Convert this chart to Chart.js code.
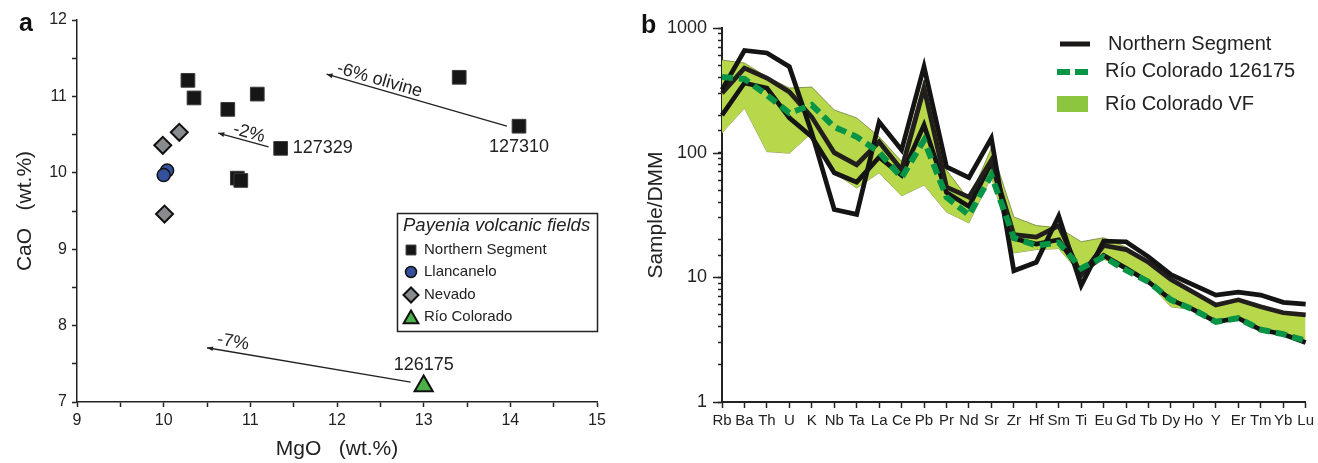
<!doctype html>
<html lang="en">
<head>
<meta charset="utf-8">
<title>Payenia: CaO vs MgO and DMM-normalised trace elements</title>
<style>
  * { margin: 0; padding: 0; }
  body {
    width: 1318px;
    height: 463px;
    background: #fff;
    overflow: hidden;
    position: relative;
    font-family: "Liberation Sans", Arial, sans-serif;
  }
  .panel { position: absolute; top: 0; height: 463px; }
  #panelA { left: 0; width: 640px; }
  #panelB { left: 640px; width: 678px; }
  .tag { position: absolute; font-weight: bold; font-size: 25px; color: #111; line-height: 29px; }
</style>
</head>
<body>
<div class="panel" id="panelA"><canvas id="chartA" width="640" height="463"></canvas></div>
<div class="panel" id="panelB"><canvas id="chartB" width="678" height="463"></canvas></div>
<div class="tag" style="left:19px;top:8px">a</div>
<div class="tag" style="left:641px;top:10px">b</div>

<script src="https://cdn.jsdelivr.net/npm/chart.js"></script>
<script>
const family = "'Liberation Sans', Arial, sans-serif";
Chart.defaults.font.family = family;
Chart.defaults.color = '#222';

// ---- panel a: CaO vs MgO (wt.%) ----
const mgoNorth = [10.28, 10.35, 10.74, 11.08, 11.35, 10.85, 10.89, 13.41, 14.10];
const caoNorth = [11.21, 10.98, 10.83, 11.03, 10.32, 9.93, 9.90, 11.25, 10.61];
const mgoLlanc = [10.04, 10.00];
const caoLlanc = [10.03, 9.97];
const mgoNevado = [9.99, 10.18, 10.01];
const caoNevado = [10.36, 10.53, 9.46];
const mgoRioCol = [13.00];
const caoRioCol = [7.21];

// olivine fractionation vectors (start = sample, end = after removal)
const vecLabels = ['-6% olivine', '-2%', '-7%'];
const vecFromMgO = [13.96, 11.21, 12.85];
const vecFromCaO = [10.61, 10.34, 7.26];
const vecToMgO = [11.88, 10.63, 10.50];
const vecToCaO = [11.29, 10.52, 7.71];

const pts = (xs, ys) => xs.map((x, i) => ({ x, y: ys[i] }));

const tickHalf = v => Number.isInteger(v) ? v : '';

// where each vector label sits along its line, and how far above it
const vecLabelPlace = [{ t: 0.72, lift: 9 }, { t: 0.43, lift: 8 }, { t: 0.88, lift: 10 }];
// sample numbers written next to a point: [dataset, index]
const pointTags = [
  { ds: 0, i: 4, text: '127329', dx: 12, dy: 0, align: 'left' },
  { ds: 0, i: 8, text: '127310', dx: 0, dy: 21, align: 'center' },
  { ds: 3, i: 0, text: '126175', dx: 0, dy: -21, align: 'center' }
];

const annotateA = {
  id: 'annotateA',
  afterDatasetsDraw(chart) {
    const { ctx, scales: { x, y } } = chart;
    ctx.save();
    ctx.strokeStyle = '#222';
    ctx.fillStyle = '#222';
    ctx.lineWidth = 1.3;
    vecLabels.forEach((txt, i) => {
      const x0 = x.getPixelForValue(vecFromMgO[i]), y0 = y.getPixelForValue(vecFromCaO[i]);
      const x1 = x.getPixelForValue(vecToMgO[i]), y1 = y.getPixelForValue(vecToCaO[i]);
      ctx.beginPath();
      ctx.moveTo(x0, y0);
      ctx.lineTo(x1, y1);
      ctx.stroke();
      // arrow head
      const a = Math.atan2(y1 - y0, x1 - x0);
      ctx.beginPath();
      ctx.moveTo(x1, y1);
      ctx.lineTo(x1 - 6 * Math.cos(a) + 2.4 * Math.sin(a), y1 - 6 * Math.sin(a) - 2.4 * Math.cos(a));
      ctx.lineTo(x1 - 6 * Math.cos(a) - 2.4 * Math.sin(a), y1 - 6 * Math.sin(a) + 2.4 * Math.cos(a));
      ctx.closePath();
      ctx.fill();
      // label along the vector
      const { t, lift } = vecLabelPlace[i];
      const lx = x0 + (x1 - x0) * t, ly = y0 + (y1 - y0) * t;
      const ang = Math.atan2(y0 - y1, x0 - x1);
      ctx.save();
      ctx.translate(lx + Math.sin(ang) * lift, ly - Math.cos(ang) * lift);
      ctx.rotate(ang);
      ctx.font = '18px ' + family;
      ctx.textAlign = 'center';
      ctx.textBaseline = 'middle';
      ctx.fillText(txt, 0, 0);
      ctx.restore();
    });
    ctx.font = '18px ' + family;
    ctx.textBaseline = 'middle';
    pointTags.forEach(p => {
      const el = chart.getDatasetMeta(p.ds).data[p.i];
      ctx.textAlign = p.align;
      ctx.fillText(p.text, el.x + p.dx, el.y + p.dy);
    });
    ctx.restore();
  }
};

const legendRadius = [7, 5.5, 7.5, 8.5];
const legendA = {
  id: 'legendA',
  afterDraw(chart) {
    const { ctx } = chart;
    ctx.save();
    ctx.lineWidth = 1.5;
    ctx.strokeStyle = '#222';
    ctx.fillStyle = '#fff';
    ctx.fillRect(397.5, 213.5, 200, 118);
    ctx.strokeRect(397.5, 213.5, 200, 118);
    ctx.fillStyle = '#222';
    ctx.textAlign = 'left';
    ctx.textBaseline = 'middle';
    ctx.font = 'italic 18.5px ' + family;
    ctx.fillText('Payenia volcanic fields', 403, 226);
    ctx.font = '15px ' + family;
    const rows = [250, 272, 295, 317];
    chart.data.datasets.forEach((ds, i) => {
      ctx.fillStyle = ds.backgroundColor;
      ctx.strokeStyle = ds.borderColor;
      ctx.lineWidth = ds.borderWidth;
      Chart.helpers.drawPoint(ctx, {
        pointStyle: ds.pointStyle, radius: legendRadius[i],
        borderWidth: ds.borderWidth, rotation: 0
      }, 411, rows[i] + (ds.pointStyle === 'triangle' ? 2 : 0));
      ctx.fillStyle = '#222';
      ctx.fillText(ds.label, 424, rows[i]);
    });
    ctx.restore();
  }
};

new Chart(document.getElementById('chartA'), {
  type: 'scatter',
  data: {
    datasets: [
      { label: 'Northern Segment', data: pts(mgoNorth, caoNorth), pointStyle: 'rect', pointRadius: 9.7,
        backgroundColor: '#161616', borderColor: '#3a3a3a', borderWidth: 1 },
      { label: 'Llancanelo', data: pts(mgoLlanc, caoLlanc), pointStyle: 'circle', pointRadius: 6.5,
        backgroundColor: '#33509c', borderColor: '#111', borderWidth: 1.5 },
      { label: 'Nevado', data: pts(mgoNevado, caoNevado), pointStyle: 'rectRot', pointRadius: 8.5,
        backgroundColor: '#888b8e', borderColor: '#111', borderWidth: 2 },
      { label: 'Río Colorado', data: pts(mgoRioCol, caoRioCol), pointStyle: 'triangle', pointRadius: 10.5,
        backgroundColor: '#4cb048', borderColor: '#111', borderWidth: 2 }
    ]
  },
  options: {
    responsive: false,
    animation: false,
    layout: { padding: { left: 0, top: 20, right: 43, bottom: 0 } },
    plugins: { legend: { display: false }, tooltip: { enabled: false } },
    scales: {
      x: {
        type: 'linear', min: 9, max: 15,
        ticks: { stepSize: 0.5, callback: tickHalf, font: { size: 16 }, padding: 4, maxRotation: 0, autoSkip: false },
        grid: { drawOnChartArea: false, tickLength: 5, color: '#222', tickWidth: 1.5 },
        border: { color: '#222', width: 1.5 },
        title: { display: true, text: 'MgO   (wt.%)', font: { size: 21 }, padding: { top: 0, bottom: 1 } },
        afterFit: s => { s.height = 61; }
      },
      y: {
        type: 'linear', min: 7, max: 12,
        ticks: { stepSize: 0.5, callback: tickHalf, font: { size: 16 }, padding: 5, autoSkip: false },
        grid: { drawOnChartArea: false, tickLength: 5, color: '#222', tickWidth: 1.5 },
        border: { color: '#222', width: 1.5 },
        title: { display: true, text: 'CaO   (wt.%)', font: { size: 21 }, padding: { top: 13, bottom: 0 } },
        afterFit: s => { s.width = 77; }
      }
    }
  },
  plugins: [annotateA, legendA]
});

// ---- panel b: sample / DMM spider diagram ----
const elements = ['Rb', 'Ba', 'Th', 'U', 'K', 'Nb', 'Ta', 'La', 'Ce', 'Pb', 'Pr', 'Nd', 'Sr', 'Zr',
  'Hf', 'Sm', 'Ti', 'Eu', 'Gd', 'Tb', 'Dy', 'Ho', 'Y', 'Er', 'Tm', 'Yb', 'Lu'];
const northA = [320, 660, 630, 490, 144, 35, 32, 176, 105, 490, 77, 63, 131, 11.3,
  13.2, 31, 8.6, 19.5, 19.3, 14.6, 10.5, 8.7, 7.2, 7.6, 7.2, 6.3, 6.1];
const northB = [300, 477, 397, 307, 193, 100, 80, 122, 73, 330, 53, 44, 87, 22,
  21, 26, 10.4, 18, 16.7, 13.2, 9.6, 7.6, 6.0, 6.6, 5.8, 5.2, 5.0];
const northC = [200, 362, 330, 190, 134, 69, 58, 92, 66, 167, 48, 37, 83, 20.5,
  18.5, 20, 10.8, 15, 11.8, 9.2, 6.6, 5.5, 4.4, 4.7, 3.8, 3.5, 3.0];
const rc126175 = [405, 390, 290, 208, 241, 161, 134, 101, 63, 126, 44, 31.6, 66, 20.8,
  18, 19, 11.8, 14.6, 11.4, 9.2, 6.6, 5.5, 4.4, 4.7, 3.8, 3.5, 3.1];
const rcVFmax = [553, 524, 405, 330, 336, 220, 190, 134, 85, 383, 72.6, 41.8, 109, 30.5,
  26, 25, 19.3, 20.8, 17.5, 13.5, 9.8, 7.6, 6.0, 6.6, 5.8, 5.2, 5.0];
const rcVFmin = [144, 228, 102, 99, 144, 69, 52, 69, 45, 55, 33.4, 27.3, 64, 15.7,
  16.7, 17, 10.5, 14, 11.4, 9.0, 5.8, 5.5, 4.4, 4.7, 3.8, 3.5, 3.1];
const decades = [1, 10, 100, 1000];

const blackLine = (data, color) => ({
  data, borderColor: color, borderWidth: 4.7, pointRadius: 0, tension: 0,
  borderJoinStyle: 'miter', fill: false
});

// longer tick marks for the decades
const decadeTicks = {
  id: 'decadeTicks',
  afterDraw(chart) {
    const { ctx, chartArea, scales: { y } } = chart;
    ctx.save();
    ctx.strokeStyle = '#222';
    ctx.lineWidth = 1.5;
    decades.forEach(v => {
      const py = Math.round(y.getPixelForValue(v)) + 0.5;
      ctx.beginPath();
      ctx.moveTo(chartArea.left - 9, py);
      ctx.lineTo(chartArea.left, py);
      ctx.stroke();
    });
    ctx.restore();
  }
};

const legendB = {
  id: 'legendB',
  afterDraw(chart) {
    const { ctx } = chart;
    ctx.save();
    ctx.lineWidth = 5;
    ctx.strokeStyle = '#1a1717';
    ctx.beginPath(); ctx.moveTo(420, 44); ctx.lineTo(450, 44); ctx.stroke();
    ctx.lineWidth = 6;
    ctx.strokeStyle = '#069447';
    ctx.setLineDash([13, 5]);
    ctx.beginPath(); ctx.moveTo(417, 72); ctx.lineTo(448, 72); ctx.stroke();
    ctx.setLineDash([]);
    ctx.fillStyle = '#8cc63f';
    ctx.fillRect(417, 96, 31, 16);
    ctx.fillStyle = '#222';
    ctx.font = '20px ' + family;
    ctx.textAlign = 'left';
    ctx.textBaseline = 'middle';
    ctx.fillText('Northern Segment', 468, 44);
    ctx.fillText('Río Colorado 126175', 465, 71);
    ctx.fillText('Río Colorado VF', 465, 104);
    ctx.restore();
  }
};

new Chart(document.getElementById('chartB'), {
  type: 'line',
  data: {
    labels: elements,
    datasets: [
      { data: rc126175, borderColor: '#069447', borderWidth: 6, borderDash: [11, 6], pointRadius: 0,
        tension: 0, fill: false },
      blackLine(northA, '#141414'),
      blackLine(northB, '#221e1c'),
      blackLine(northC, '#141414'),
      { data: rcVFmax, borderColor: '#6e7f3c', borderWidth: 0.8, pointRadius: 0, tension: 0,
        fill: '+1', backgroundColor: '#b7d84b' },
      { data: rcVFmin, borderColor: '#6e7f3c', borderWidth: 0.8, pointRadius: 0, tension: 0, fill: false }
    ]
  },
  options: {
    responsive: false,
    animation: false,
    layout: { padding: { left: 0, top: 28, right: 0, bottom: 0 } },
    plugins: { legend: { display: false }, tooltip: { enabled: false } },
    scales: {
      x: {
        type: 'category',
        offset: false,
        ticks: { font: { size: 15 }, autoSkip: false, maxRotation: 0, padding: 4 },
        grid: { drawOnChartArea: false, offset: false, tickLength: 6, color: '#222', tickWidth: 1.5 },
        border: { color: '#222', width: 2 },
        afterFit: s => { s.height = 61; }
      },
      y: {
        type: 'logarithmic', min: 1, max: 1000,
        ticks: { font: { size: 18 }, padding: 11, autoSkip: false,
          callback: v => decades.includes(v) ? v : '' },
        grid: { drawOnChartArea: false, tickLength: 4, color: '#222', tickWidth: 1.5 },
        border: { color: '#222', width: 2 },
        title: { display: true, text: 'Sample/DMM', font: { size: 21 }, padding: { top: 4, bottom: 0 } },
        afterFit: s => { s.width = 82; }
      }
    }
  },
  plugins: [decadeTicks, legendB]
});
</script>
</body>
</html>
